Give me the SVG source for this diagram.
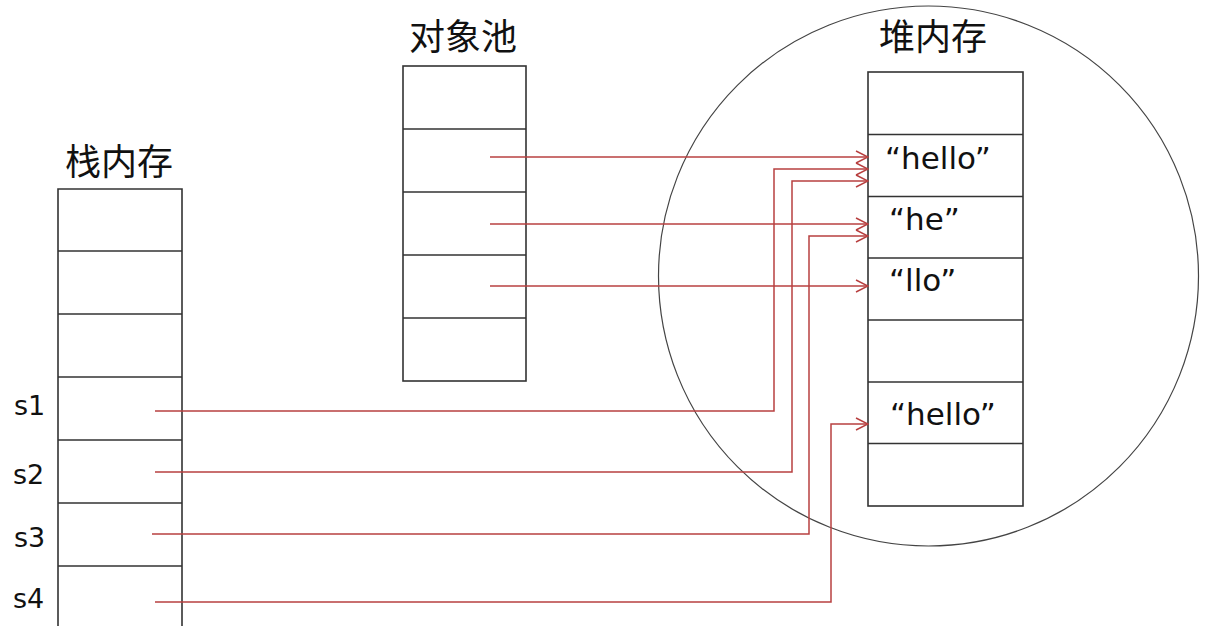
<svg xmlns="http://www.w3.org/2000/svg" width="1205" height="626" viewBox="0 0 1205 626">
<style>
.box{fill:none;stroke:#333;stroke-width:1.6}
.cjk{font-family:"Noto Sans CJK SC","Noto Sans",sans-serif;font-size:36px;fill:#111}
.lbl{font-family:"DejaVu Sans","Liberation Sans",sans-serif;font-size:31px;fill:#111}
.s{font-family:"DejaVu Sans","Liberation Sans",sans-serif;font-size:27px;fill:#111}
.arr{fill:none;stroke:#b84040;stroke-width:1.5;marker-end:url(#ah)}
</style>
<defs>
<marker id="ah" viewBox="0 0 14 14" refX="13" refY="7" markerWidth="14" markerHeight="14" markerUnits="userSpaceOnUse" orient="auto">
<path d="M1,1 L13,7 L1,13" fill="none" stroke="#b84040" stroke-width="1.5"/>
</marker>
</defs>
<rect width="1205" height="626" fill="#fff"/>
<g id="heap-circle">
<circle cx="928.5" cy="276" r="270" fill="none" stroke="#444" stroke-width="1.2"/>
</g>
<g id="stack">
<text class="cjk" x="119" y="175" text-anchor="middle">栈内存</text>
<path class="box" d="M58,630 V189 H182 V630 M58,251 H182 M58,314 H182 M58,377 H182 M58,440 H182 M58,503 H182 M58,566 H182"/>
<text class="s" x="14" y="415">s1</text>
<text class="s" x="13" y="484">s2</text>
<text class="s" x="14" y="547">s3</text>
<text class="s" x="13" y="608">s4</text>
</g>
<g id="pool">
<text class="cjk" x="463" y="50" text-anchor="middle">对象池</text>
<rect class="box" x="403" y="66" width="123" height="315"/>
<path class="box" d="M403,129 H526 M403,192 H526 M403,255 H526 M403,318 H526"/>
</g>
<g id="heap">
<text class="cjk" x="933" y="50" text-anchor="middle">堆内存</text>
<rect class="box" x="868" y="72" width="155" height="434"/>
<path class="box" d="M868,134.5 H1023 M868,196.5 H1023 M868,258 H1023 M868,320 H1023 M868,382 H1023 M868,443.5 H1023"/>
<text class="lbl" x="885" y="169">“hello”</text>
<text class="lbl" x="889" y="230">“he”</text>
<text class="lbl" x="889" y="291">“llo”</text>
<text class="lbl" x="890" y="425">“hello”</text>
</g>
<g id="connectors">
<path class="arr" d="M490,157 H868"/>
<path class="arr" d="M490,224 H868"/>
<path class="arr" d="M490,286 H868"/>
<path class="arr" d="M155,411 H774 V169 H868"/>
<path class="arr" d="M155,472 H792 V181 H868"/>
<path class="arr" d="M152,534 H809 V236 H868"/>
<path class="arr" d="M155,602 H831 V424 H868"/>
</g>
</svg>
